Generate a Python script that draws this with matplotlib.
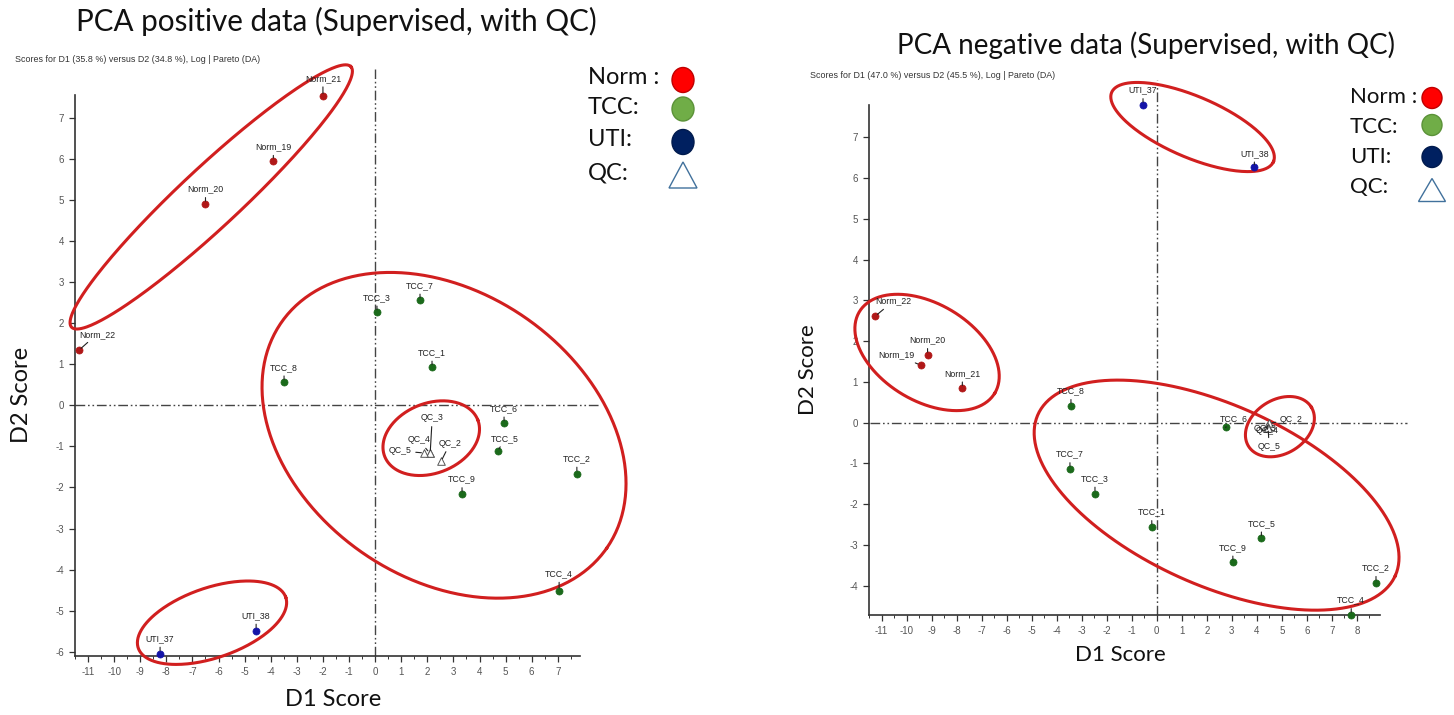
import numpy as np
import matplotlib
matplotlib.use("Agg")
import matplotlib.pyplot as plt
from matplotlib.patches import Ellipse, Polygon
from matplotlib.transforms import IdentityTransform

# ---------------- data ----------------
pos_norm_labels = ['Norm_19', 'Norm_20', 'Norm_21', 'Norm_22']
pos_norm_x = [-3.9, -6.5, -2.0, -11.35]
pos_norm_y = [5.95, 4.9, 7.52, 1.34]
pos_tcc_labels = ['TCC_1', 'TCC_2', 'TCC_3', 'TCC_4', 'TCC_5', 'TCC_6', 'TCC_7', 'TCC_8', 'TCC_9']
pos_tcc_x = [2.18, 7.73, 0.07, 7.05, 4.7, 4.94, 1.72, -3.49, 3.33]
pos_tcc_y = [0.92, -1.66, 2.26, -4.51, -1.12, -0.44, 2.55, 0.56, -2.16]
pos_uti_labels = ['UTI_37', 'UTI_38']
pos_uti_x = [-8.24, -4.56]
pos_uti_y = [-6.04, -5.48]
pos_qc_labels = ['QC_2', 'QC_3', 'QC_4', 'QC_5']
pos_qc_x = [2.53, 2.11, 2.09, 1.88]
pos_qc_y = [-1.36, -1.16, -1.16, -1.16]

neg_norm_labels = ['Norm_19', 'Norm_20', 'Norm_21', 'Norm_22']
neg_norm_x = [-9.44, -9.16, -7.77, -11.25]
neg_norm_y = [1.41, 1.66, 0.84, 2.61]
neg_tcc_labels = ['TCC_1', 'TCC_2', 'TCC_3', 'TCC_4', 'TCC_5', 'TCC_6', 'TCC_7', 'TCC_8', 'TCC_9']
neg_tcc_x = [-0.2, 8.76, -2.47, 7.77, 4.18, 2.75, -3.47, -3.43, 3.04]
neg_tcc_y = [-2.56, -3.93, -1.74, -4.72, -2.84, -0.12, -1.14, 0.41, -3.43]
neg_uti_labels = ['UTI_37', 'UTI_38']
neg_uti_x = [-0.55, 3.9]
neg_uti_y = [7.79, 6.26]
neg_qc_labels = ['QC_2', 'QC_3', 'QC_4', 'QC_5']
neg_qc_x = [4.5, 4.42, 4.45, 4.45]
neg_qc_y = [-0.02, -0.08, -0.1, -0.14]

pos_xticks = list(range(-11, 8))
pos_yticks = list(range(-6, 8))
neg_xticks = list(range(-11, 9))
neg_yticks = list(range(-4, 8))

pos_title = "PCA positive data (Supervised, with QC)"
neg_title = "PCA negative data (Supervised, with QC)"
pos_sub = "Scores for D1 (35.8 %) versus D2 (34.8 %), Log | Pareto (DA)"
neg_sub = "Scores for D1 (47.0 %) versus D2 (45.5 %), Log | Pareto (DA)"
legend_labels = ['Norm :', 'TCC:', 'UTI:', 'QC:']

# group ellipses: centre (data), semi-axes (px), angle (deg)
pos_ellipses = [(-6.28, 5.07, 191, 30, 43), (2.64, -0.73, 198, 143, -34.7),
                (2.15, -0.80, 50, 35, 21.4), (-6.25, -5.29, 78, 35, 19)]
neg_ellipses = [(1.43, 7.25, 88, 30.5, -23.2), (-9.18, 1.72, 79, 48.5, -31),
                (2.39, -1.78, 196, 90, -24.3), (4.92, -0.10, 37, 27, 32)]

# label offsets in pixels (dx, dy); default (0, 15)
pos_offsets = {'Norm_21': (0, 18), 'Norm_19': (0, 14), 'Norm_22': (18, 16),
               'TCC_5': (7, 13), 'TCC_4': (0, 17),
               'QC_3': (2, 35), 'QC_4': (-11, 13), 'QC_5': (-24, 2), 'QC_2': (9, 18)}
neg_offsets = {'Norm_22': (18, 15), 'Norm_19': (-24, 10), 'TCC_6': (8, 9),
               'QC_2': (22, 4), 'QC_5': (1, -18), 'QC_3': (-2, -3), 'QC_4': (-1, -4),
               'UTI_38': (0, 14)}

# ---------------- style ----------------
W, H = 1454, 715
fig = plt.figure(figsize=(W / 100, H / 100), dpi=100)
fig.patch.set_facecolor('white')

TITLE_FONT = 'Lato'
SMALL_FONT = 'Liberation Sans'
NORM_C, TCC_C, UTI_C = '#b01818', '#1b6a1b', '#1414a8'
ELL_C = '#d11f1f'
DASH = (0, (7, 2, 1.2, 2, 1.2, 2))


def fx(x):
    return x / W


def fy(y):
    return 1 - y / H


def make_axes(px_left, px_right, px_top, px_bottom):
    return fig.add_axes([fx(px_left), fy(px_bottom), (px_right - px_left) / W,
                         (px_bottom - px_top) / H])


def style_axes(ax, xlim, ylim, xticks, yticks):
    ax.set_xlim(*xlim)
    ax.set_ylim(*ylim)
    for s in ['top', 'right']:
        ax.spines[s].set_visible(False)
    for s in ['left', 'bottom']:
        ax.spines[s].set_color('#333333')
        ax.spines[s].set_linewidth(1.2)
    ax.set_xticks(xticks)
    ax.set_yticks(yticks)
    ax.set_xticks(np.arange(xticks[0] - 0.5, xticks[-1] + 0.6, 0.5), minor=True)
    ax.set_xticklabels([str(t) for t in xticks], fontsize=7, color='#555555',
                       family=SMALL_FONT)
    ax.set_yticklabels([str(t) for t in yticks], fontsize=7, color='#555555',
                       family=SMALL_FONT)
    ax.tick_params(which='major', direction='out', length=4, width=0.9,
                   color='#333333', pad=4)
    ax.tick_params(which='minor', direction='out', length=2, width=0.7,
                   color='#333333')
    ax.set_facecolor('none')


def draw_group(ax, labels, xs, ys, color, offsets, marker='o'):
    if marker == 'o':
        ax.scatter(xs, ys, s=26, color=color, zorder=5, clip_on=False,
                   edgecolors=color, linewidths=0.5)
    else:
        ax.scatter(xs, ys, s=30, marker='^', facecolors='white',
                   edgecolors='#555555', linewidths=0.7, zorder=5, clip_on=False)
    for lab, x, y in zip(labels, xs, ys):
        dx, dy = offsets.get(lab, (0, 15))
        ax.annotate(lab, xy=(x, y), xytext=(dx, dy), textcoords='offset pixels',
                    ha='center', va='center', fontsize=6.3, family=SMALL_FONT,
                    color='#222222', zorder=6, annotation_clip=False,
                    arrowprops=dict(arrowstyle='-', color='#222222', lw=0.8,
                                    shrinkA=1, shrinkB=2))


def draw_ellipses(ax, ells):
    t = np.linspace(0, 2 * np.pi, 300)
    for cx, cy, a, b, ang in ells:
        c = ax.transData.transform((cx, cy))
        th = np.deg2rad(ang)
        ex = a * np.cos(t)
        ey = b * np.sin(t)
        px = c[0] + ex * np.cos(th) - ey * np.sin(th)
        py = c[1] + ex * np.sin(th) + ey * np.cos(th)
        d = ax.transData.inverted().transform(np.column_stack([px, py]))
        ax.plot(d[:, 0], d[:, 1], color=ELL_C, lw=2.2, clip_on=False, zorder=4)


def draw_crosshair(ax, xl, yl, vtop, hright):
    ax.plot([0, 0], [yl[0], vtop], color='#444444', lw=1.0, linestyle=DASH,
            clip_on=False, zorder=2)
    ax.plot([xl[0], hright], [0, 0], color='#444444', lw=1.0, linestyle=DASH,
            clip_on=False, zorder=2)


def draw_legend(x_text, ys_text, x_mark, ys_mark, sizes, fs):
    cols = [('#ff0000', '#c00000'), ('#70ad47', '#5b9238'), ('#002060', '#001a4d')]
    for lab, y in zip(legend_labels, ys_text):
        fig.text(fx(x_text), fy(y), lab, fontsize=fs, family=TITLE_FONT,
                 ha='left', va='center', color='#111111')
    for i in range(3):
        w, h = sizes[i]
        e = Ellipse((x_mark, H - ys_mark[i]), w, h, facecolor=cols[i][0],
                    edgecolor=cols[i][1], lw=1.0, transform=IdentityTransform())
        fig.add_artist(e)
    w, h = sizes[3]
    xc, yc = x_mark, H - ys_mark[3]
    tri = Polygon([[xc - w / 2, yc - h / 2], [xc + w / 2, yc - h / 2], [xc, yc + h / 2]],
                  closed=True, facecolor='white', edgecolor='#41719c', lw=1.0,
                  transform=IdentityTransform())
    fig.add_artist(tri)


# ---------------- left panel ----------------
axL = make_axes(75, 580, 95, 656)
pos_xlim = (-11.5, 7.85)
pos_ylim = (-6.1, 7.55)
style_axes(axL, pos_xlim, pos_ylim, pos_xticks, pos_yticks)
draw_crosshair(axL, pos_xlim, pos_ylim, 8.18, 8.62)
draw_group(axL, pos_norm_labels, pos_norm_x, pos_norm_y, NORM_C, pos_offsets)
draw_group(axL, pos_tcc_labels, pos_tcc_x, pos_tcc_y, TCC_C, pos_offsets)
draw_group(axL, pos_uti_labels, pos_uti_x, pos_uti_y, UTI_C, pos_offsets)
draw_group(axL, pos_qc_labels, pos_qc_x, pos_qc_y, 'white', pos_offsets, marker='^')
draw_ellipses(axL, pos_ellipses)

fig.text(fx(336), fy(21), pos_title, fontsize=21.3, family=TITLE_FONT,
         ha='center', va='center', color='#111111')
fig.text(fx(15), fy(60), pos_sub, fontsize=6.4, family=SMALL_FONT,
         ha='left', va='center', color='#333333')
fig.text(fx(22), fy(395), 'D2 Score', fontsize=17, family=TITLE_FONT,
         rotation=90, ha='center', va='center', color='#111111')
fig.text(fx(333), fy(700), 'D1 Score', fontsize=17, family=TITLE_FONT,
         ha='center', va='center', color='#111111')
draw_legend(588, [77, 108, 140, 173], 683, [80, 109, 142, 175],
            [(22, 25), (22, 24), (22, 25), (28, 26)], 17)

# ---------------- right panel ----------------
axR = make_axes(869, 1380, 105, 615)
neg_xlim = (-11.45, 8.92)
neg_ylim = (-4.72, 7.79)
style_axes(axR, neg_xlim, neg_ylim, neg_xticks, neg_yticks)
draw_crosshair(axR, neg_xlim, neg_ylim, 8.4, 10.0)
draw_group(axR, neg_norm_labels, neg_norm_x, neg_norm_y, NORM_C, neg_offsets)
draw_group(axR, neg_tcc_labels, neg_tcc_x, neg_tcc_y, TCC_C, neg_offsets)
draw_group(axR, neg_uti_labels, neg_uti_x, neg_uti_y, UTI_C, neg_offsets)
draw_group(axR, neg_qc_labels, neg_qc_x, neg_qc_y, 'white', neg_offsets, marker='^')
draw_ellipses(axR, neg_ellipses)

fig.text(fx(1146), fy(45), neg_title, fontsize=20, family=TITLE_FONT,
         ha='center', va='center', color='#111111')
fig.text(fx(810), fy(76), neg_sub, fontsize=6.4, family=SMALL_FONT,
         ha='left', va='center', color='#333333')
fig.text(fx(808), fy(370), 'D2 Score', fontsize=16, family=TITLE_FONT,
         rotation=90, ha='center', va='center', color='#111111')
fig.text(fx(1120), fy(655), 'D1 Score', fontsize=16, family=TITLE_FONT,
         ha='center', va='center', color='#111111')
draw_legend(1350, [97, 127, 157, 187], 1432, [98, 125, 157, 190],
            [(20, 21), (20, 21), (20, 21), (27, 23)], 16)

fig.savefig('out.png', dpi=100)
